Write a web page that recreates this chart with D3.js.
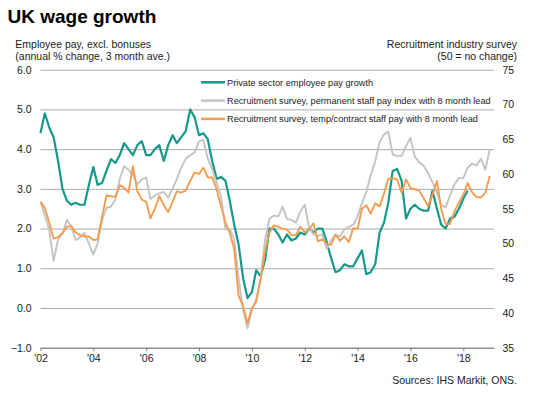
<!DOCTYPE html>
<html>
  <head>
    <meta charset="utf-8">
    <title>UK wage growth</title>
    <script src="https://d3js.org/d3.v7.min.js"></script>
    <style>
      body { margin: 0; background: #fff; }
      #chart { font-family: Arial, "Liberation Sans", sans-serif; }
      .tick text { fill: #1a1a1a; }
    </style>
  </head>
  <body>
    <svg id="chart" width="535" height="398"></svg>
    <script>
      // values read every 2 months, starting Jan 2002
      var payGrowth = [
        4.4, 4.9, 4.55, 4.3, 3.7, 3.0, 2.7, 2.6, 2.65, 2.6,
        2.6, 3.1, 3.55, 3.1, 3.15, 3.45, 3.75, 3.65, 3.85, 4.15,
        4.0, 3.85, 4.1, 4.2, 3.85, 3.85, 4.0, 4.1, 3.7, 4.1,
        4.35, 4.15, 4.3, 4.45, 5.0, 4.8, 4.35, 4.4, 4.25, 3.7,
        3.25, 3.3, 3.2, 2.7, 2.1, 1.6, 0.75, 0.25, 0.4, 0.95,
        0.8, 1.2, 2.0, 2.0, 1.85, 1.65, 1.85, 1.7, 1.75, 1.9,
        1.85, 2.0, 1.9, 2.0, 2.0, 1.65, 1.25, 0.9, 0.95, 1.1,
        1.05, 1.05, 1.25, 1.45, 0.85, 0.9, 1.1, 1.9, 2.15, 2.65,
        3.45, 3.5, 3.2, 2.25, 2.5, 2.6, 2.5, 2.45, 2.45, 2.95,
        2.5, 2.1, 2.0, 2.25, 2.3, 2.5, 2.75, 2.95
      ];
      var permIndex = [
        56.0, 54.1, 52.0, 47.5, 50.6, 51.4, 53.4, 52.5, 50.5, 50.9,
        51.5, 50.0, 48.4, 50.0, 53.3, 55.1, 55.3, 56.3, 59.3, 61.1,
        60.6, 59.9, 58.5, 59.2, 59.5, 56.4, 56.9, 57.2, 57.4, 56.6,
        57.9, 59.3, 60.9, 62.2, 62.7, 63.1, 64.7, 64.9, 62.2, 60.7,
        58.7, 56.8, 52.0, 52.1, 50.6, 45.0, 40.5, 37.8, 40.5, 42.0,
        45.0, 50.5, 53.6, 54.0, 53.9, 55.3, 53.5, 53.4, 53.0, 54.6,
        55.6, 52.3, 51.3, 51.1, 51.3, 49.2, 50.5, 51.2, 51.0, 52.0,
        52.4, 52.7, 53.9, 55.8, 57.4, 59.8, 61.8, 64.6, 65.7, 66.1,
        62.8, 62.6, 62.6, 64.0, 65.2, 62.5, 61.7, 61.2, 60.1, 58.8,
        57.3, 55.5, 55.2, 56.9, 58.5, 59.4, 59.4, 60.9, 61.5, 61.2,
        62.2, 60.6, 63.5
      ];
      var tempIndex = [
        56.0, 55.1, 53.0, 50.7, 50.9, 51.5, 52.4, 52.5, 51.6, 51.2,
        51.0, 51.0, 50.5, 50.6, 53.8, 56.9, 56.8, 56.7, 58.4, 58.0,
        57.3, 61.1, 57.5, 56.3, 56.0, 53.6, 55.0, 56.8, 55.5, 54.5,
        56.0, 57.5, 57.3, 57.6, 59.0, 60.2, 60.0, 60.9, 59.5, 59.5,
        57.8, 55.3, 53.0, 51.5, 49.2, 42.5, 41.0, 38.5, 40.7, 41.6,
        44.8, 48.8, 51.6, 52.6, 52.4, 52.1, 52.0, 51.2, 51.2, 52.4,
        51.6, 52.0, 52.9, 50.3, 50.6, 49.9, 49.8, 51.3, 50.4, 51.0,
        50.2, 52.2, 52.1, 55.0, 55.5, 54.3, 55.8, 55.3, 57.2, 59.3,
        59.4, 59.2, 57.3, 59.2, 58.0, 57.8, 57.6, 56.5, 55.4, 57.0,
        59.0, 55.0, 52.8, 52.8, 54.6, 55.9, 57.0, 58.7, 57.4, 56.7,
        56.6, 57.3, 59.7
      ];

      var yearTicks = [2002, 2004, 2006, 2008, 2010, 2012, 2014, 2016, 2018];
      var leftTicks = [-1, 0, 1, 2, 3, 4, 5, 6];
      var rightTicks = [35, 40, 45, 50, 55, 60, 65, 70, 75];
      var legendLabels = [
        "Private sector employee pay growth",
        "Recruitment survey, permanent staff pay index with 8 month lead",
        "Recruitment survey, temp/contract staff pay with 8 month lead"
      ];
      var colors = ["#16988a", "#c4c4c4", "#f49d50"];

      var plotLeft = 40.5, plotRight = 494, plotTop = 69.7, plotBottom = 347.7;
      var start = new Date(2002, 0, 1);

      var svg = d3.select("#chart");
      svg.append("rect").attr("width", 535).attr("height", 398).attr("fill", "#fff");

      var x = d3.scaleTime()
        .domain([start, new Date(2019, 2, 1)])
        .range([plotLeft, plotRight]);
      var yL = d3.scaleLinear().domain([-1, 6]).range([plotBottom, plotTop]);
      var yR = d3.scaleLinear().domain([35, 75]).range([plotBottom, plotTop]);

      function monthOf(i) { return d3.timeMonth.offset(start, 2 * i); }

      // grid + left labels
      var gLeft = svg.append("g")
        .attr("transform", "translate(" + plotLeft + ",0)")
        .call(d3.axisLeft(yL)
          .tickValues(leftTicks)
          .tickFormat(d3.format(".1f"))
          .tickSize(-(plotRight - plotLeft))
          .tickPadding(9));
      gLeft.select(".domain").remove();
      gLeft.selectAll(".tick line").attr("stroke", "#ababab").attr("stroke-width", 1);
      gLeft.selectAll(".tick text").style("font-size", "10.5px");

      // right labels
      var gRight = svg.append("g")
        .attr("transform", "translate(" + plotRight + ",0)")
        .call(d3.axisRight(yR).tickValues(rightTicks).tickSize(0).tickPadding(8.5));
      gRight.select(".domain").remove();
      gRight.selectAll(".tick text").style("font-size", "10.5px");

      // bottom axis
      var gX = svg.append("g")
        .attr("transform", "translate(0," + plotBottom + ")")
        .call(d3.axisBottom(x)
          .tickValues(yearTicks.map(function(y) { return new Date(y, 0, 1); }))
          .tickFormat(d3.timeFormat("'%y"))
          .tickSize(3.5)
          .tickSizeOuter(0)
          .tickPadding(3));
      gX.select(".domain").attr("stroke", "#808080");
      gX.selectAll(".tick line").attr("stroke", "#808080");
      gX.selectAll(".tick text").style("font-size", "10.5px");

      // lines
      var payLine = d3.line()
        .x(function(d, i) { return x(monthOf(i)); })
        .y(function(d) { return yL(d); });
      var surveyLine = d3.line()
        .x(function(d, i) { return x(monthOf(i)); })
        .y(function(d) { return yR(d); });

      svg.append("path").datum(payGrowth)
        .attr("fill", "none").attr("stroke", colors[0]).attr("stroke-width", 2.2)
        .attr("stroke-linejoin", "round").attr("d", payLine);
      svg.append("path").datum(permIndex)
        .attr("fill", "none").attr("stroke", colors[1]).attr("stroke-width", 1.9)
        .attr("stroke-linejoin", "round").attr("d", surveyLine);
      svg.append("path").datum(tempIndex)
        .attr("fill", "none").attr("stroke", colors[2]).attr("stroke-width", 1.9)
        .attr("stroke-linejoin", "round").attr("d", surveyLine);

      // legend
      var legend = svg.append("g").attr("transform", "translate(201,82.3)");
      legendLabels.forEach(function(label, i) {
        var row = legend.append("g").attr("transform", "translate(0," + (i * 18.3) + ")");
        row.append("line").attr("x1", 0).attr("x2", 24)
          .attr("stroke", colors[i]).attr("stroke-width", 2.5);
        row.append("text").attr("x", 26).attr("dy", "0.35em")
          .style("font-size", "9.2px").attr("fill", "#1a1a1a").text(label);
      });

      // titles
      svg.append("text").attr("x", 7.5).attr("y", 23)
        .style("font-size", "19px").style("font-weight", "bold").attr("fill", "#000")
        .text("UK wage growth");
      svg.append("text").attr("x", 15.3).attr("y", 47.5).style("font-size", "10.5px")
        .attr("fill", "#1a1a1a").text("Employee pay, excl. bonuses");
      svg.append("text").attr("x", 15.3).attr("y", 59.5).style("font-size", "10.5px")
        .attr("fill", "#1a1a1a").text("(annual % change, 3 month ave.)");
      svg.append("text").attr("x", 517).attr("y", 47.5).attr("text-anchor", "end")
        .style("font-size", "10.5px").attr("fill", "#1a1a1a").text("Recruitment industry survey");
      svg.append("text").attr("x", 517).attr("y", 59.5).attr("text-anchor", "end")
        .style("font-size", "10.5px").attr("fill", "#1a1a1a").text("(50 = no change)");
      svg.append("text").attr("x", 517).attr("y", 384).attr("text-anchor", "end")
        .style("font-size", "10.5px").attr("fill", "#1a1a1a").text("Sources: IHS Markit, ONS.");
    </script>
  </body>
</html>
